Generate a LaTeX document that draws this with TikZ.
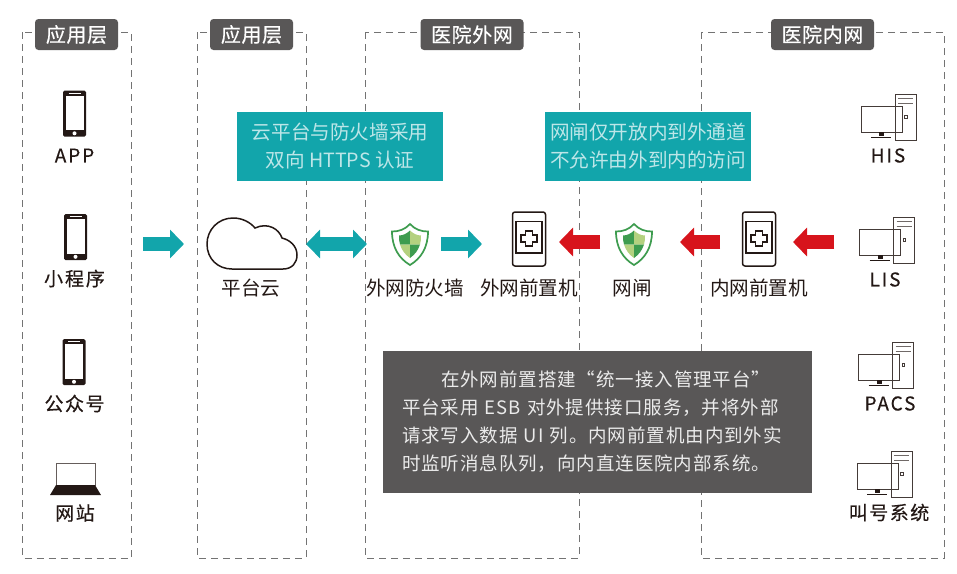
\documentclass[tikz,border=0pt]{standalone}
\usepackage{fontspec}
\setmainfont{Noto Sans CJK SC}
\usetikzlibrary{arrows.meta}
\definecolor{teal}{HTML}{12A5AB}
\definecolor{darkbox}{HTML}{595757}
\definecolor{ink}{HTML}{231815}
\definecolor{hired}{HTML}{D7141C}
\definecolor{gr1}{HTML}{3E9C4F}
\definecolor{gr2}{HTML}{B4D17F}
\tikzset{
  x=1pt,y=-1pt,
  panel/.style={draw=black!55,line width=0.8pt,dash pattern=on 7pt off 5pt},
  tag/.style={fill=darkbox,rounded corners=3.5pt,text=white,font=\fontsize{20}{22}\selectfont\addfontfeature{LetterSpace=3,FakeBold=0.4},minimum height=31pt,inner sep=0pt,align=center},
  lab/.style={text=ink,font=\fontsize{19.6}{22}\selectfont,inner sep=0pt},
  strong/.style={text=ink,font=\fontsize{19}{22}\selectfont\addfontfeature{FakeBold=0.4},inner sep=0pt},
  note/.style={fill=teal,text=white!72!teal,font=\fontsize{19.6}{28}\selectfont,align=center,inner sep=0pt,minimum height=69pt,minimum width=206pt},
  fat/.style={line width=13.5pt,color=teal,-{Triangle[length=14pt,width=28pt]}},
  fatred/.style={fat,color=hired},
  fatboth/.style={fat,{Triangle[length=14pt,width=28pt]}-{Triangle[length=14pt,width=28pt]}},
  phone/.pic={
    \fill[ink,rounded corners=1.5pt] (-11.5,-23) rectangle (11.5,23);
    \fill[white] (-9,-18) rectangle (9,16.5);
    \fill[white] (0,19.8) circle (2pt);
    \draw[white,line width=0.6pt] (-6,-20.5) -- (6,-20.5);
  },
  laptop/.pic={
    \draw[ink!70,fill=white,line width=1pt] (-19.5,-11) rectangle (19.5,11);
    \fill[ink] (-19.5,11) -- (19.5,11) -- (25.5,21) -- (-25.5,21) -- cycle;
  },
  pc/.pic={
    \draw[ink!85,fill=white,line width=0.9pt] (15,-23) rectangle (36,23);
    \draw[ink!65,line width=0.9pt] (18,-18.5) -- (33,-18.5) (18,-14) -- (33,-14);
    \draw[ink!85,line width=0.8pt] (24.5,-1.5) rectangle (27,1);
    \draw[ink!85,line width=0.9pt] (-19,-11) rectangle (22,15);
    \fill[ink] (-1,15) rectangle (4,19);
    \draw[ink,line width=0.9pt] (-9,20) -- (11,20);
  },
  shield/.pic={
    \draw[gr1,line width=1.7pt,fill=white] (0,-20.5) .. controls (-5,-15) and (-11,-13) .. (-18,-13) .. controls (-18,3) and (-11,14) .. (0,20.5) .. controls (11,14) and (18,3) .. (18,-13) .. controls (11,-13) and (5,-15) .. (0,-20.5) -- cycle;
    \fill[gr1] (0,-14) .. controls (-3,-11) and (-7,-9) .. (-11,-9) .. controls (-11,-6) and (-11,-3) .. (-10,0) -- (0,0) -- cycle;
    \fill[gr2] (0,-14) .. controls (3,-11) and (7,-9) .. (11,-9) .. controls (11,-6) and (11,-3) .. (10,0) -- (0,0) -- cycle;
    \fill[gr2] (-10,0) .. controls (-8,6) and (-5,10) .. (0,13.5) -- (0,0) -- cycle;
    \fill[gr1] (10,0) .. controls (8,6) and (5,10) .. (0,13.5) -- (0,0) -- cycle;
  },
  gate/.pic={
    \draw[ink,line width=1.5pt,rounded corners=2.5pt] (-16.5,-27) rectangle (16.5,27);
    \draw[ink,line width=1.5pt] (-13,-17.5) rectangle (13,14);
    \draw[ink,line width=1.5pt] (-3.5,-8) -- (3.5,-8) -- (3.5,-4) -- (8,-4) -- (8,3) -- (3.5,3) -- (3.5,7) -- (-3.5,7) -- (-3.5,3) -- (-8,3) -- (-8,-4) -- (-3.5,-4) -- cycle;
  },
  cloudicon/.pic={
    \draw[ink,line width=1.5pt,fill=white] (232,269) -- (283,269) .. controls (292,269) and (297,263) .. (297,255) .. controls (297,246) and (290,240) .. (282,238) .. controls (279,229) and (268,222) .. (255,228) .. controls (250,222) and (242,218) .. (233,218) .. controls (218,218) and (207,230) .. (207,244) .. controls (207,259) and (218,269) .. (232,269) -- cycle;
  }
}
\begin{document}
\begin{tikzpicture}
\useasboundingbox (0,0) rectangle (957,573);
% panels
\draw[panel] (22.5,32) rectangle (131,558);
\draw[panel] (197,32) rectangle (306,558);
\draw[panel] (365,32) rectangle (579,558);
\draw[panel] (701,32) rectangle (944,558);
% tags
\node[tag,minimum width=83pt] (t1) at (76.5,34.5) {应用层};
\node[tag,minimum width=83pt] (t2) at (251.5,34.5) {应用层};
\node[tag,minimum width=103pt] (t3) at (472,34.5) {医院外网};
\node[tag,minimum width=103pt] (t4) at (822.5,34.5) {医院内网};
% notes
\node[note] (n1) at (340,146.5) {云平台与防火墙采用\\双向 HTTPS 认证};
\node[note] (n2) at (648,146.5) {网闸仅开放内到外通道\\不允许由外到内的访问};
\node[fill=darkbox,text=white!88!darkbox,font=\fontsize{18.5}{28}\selectfont\addfontfeature{LetterSpace=5},align=left,text width=391pt,inner xsep=19pt,inner ysep=0pt,minimum height=142pt] (n3) at (597.5,422) {\hspace*{39pt}在外网前置搭建“统一接入管理平台”\\平台采用 ESB 对外提供接口服务，并将外部\\请求写入数据 UI 列。内网前置机由内到外实\\时监听消息队列，向内直连医院内部系统。};
% left column
\pic at (74.5,113.5) {phone};
\node[strong] (app) at (74.5,155.5) {\addfontfeature{LetterSpace=10}APP};
\pic at (75.5,237) {phone};
\node[strong] (mini) at (74.5,278.5) {\addfontfeature{LetterSpace=10}小程序};
\pic at (74,362) {phone};
\node[strong] (gzh) at (74.5,403.5) {\addfontfeature{LetterSpace=8}公众号};
\pic at (75.5,474) {laptop};
\node[strong] (web) at (75,513) {\addfontfeature{LetterSpace=8}网站};
% cloud
\pic at (0,0) {cloudicon};
\node[lab] (cloud) at (251,288) {平台云};
% outer net
\pic at (410,244.5) {shield};
\node[lab] (fw) at (415,288) {外网防火墙};
\pic at (529,239) {gate};
\node[lab] (og) at (529,288) {外网前置机};
\pic at (634,244.5) {shield};
\node[lab] (gap) at (632,288) {网闸};
\pic at (759,239) {gate};
\node[lab] (ig) at (759,288) {内网前置机};
% pcs
\pic at (880,117) {pc};
\node[strong] (his) at (888,155.5) {\addfontfeature{LetterSpace=10}HIS};
\pic at (878.5,240) {pc};
\node[strong] (lis) at (885,279.5) {\addfontfeature{LetterSpace=10}LIS};
\pic at (877.5,365) {pc};
\node[strong] (pacs) at (890,403.5) {\addfontfeature{LetterSpace=10}PACS};
\pic at (876,474) {pc};
\node[strong] (call) at (889,512.5) {\addfontfeature{LetterSpace=8}叫号系统};
% connectors
\coordinate (a1s) at (143,244); \coordinate (a1e) at (184,244);
\coordinate (a2s) at (306,244); \coordinate (a2e) at (367,244);
\coordinate (a3s) at (441,244); \coordinate (a3e) at (482,244);
\coordinate (a4s) at (600,242); \coordinate (a4e) at (559,242);
\coordinate (a5s) at (720,242); \coordinate (a5e) at (680,242);
\coordinate (a6s) at (834,242); \coordinate (a6e) at (793,242);
\draw[fat] (a1s) -- (a1e);
\draw[fatboth] (a2s) -- (a2e);
\draw[fat] (a3s) -- (a3e);
\draw[fatred] (a4s) -- (a4e);
\draw[fatred] (a5s) -- (a5e);
\draw[fatred] (a6s) -- (a6e);
\end{tikzpicture}
\end{document}
